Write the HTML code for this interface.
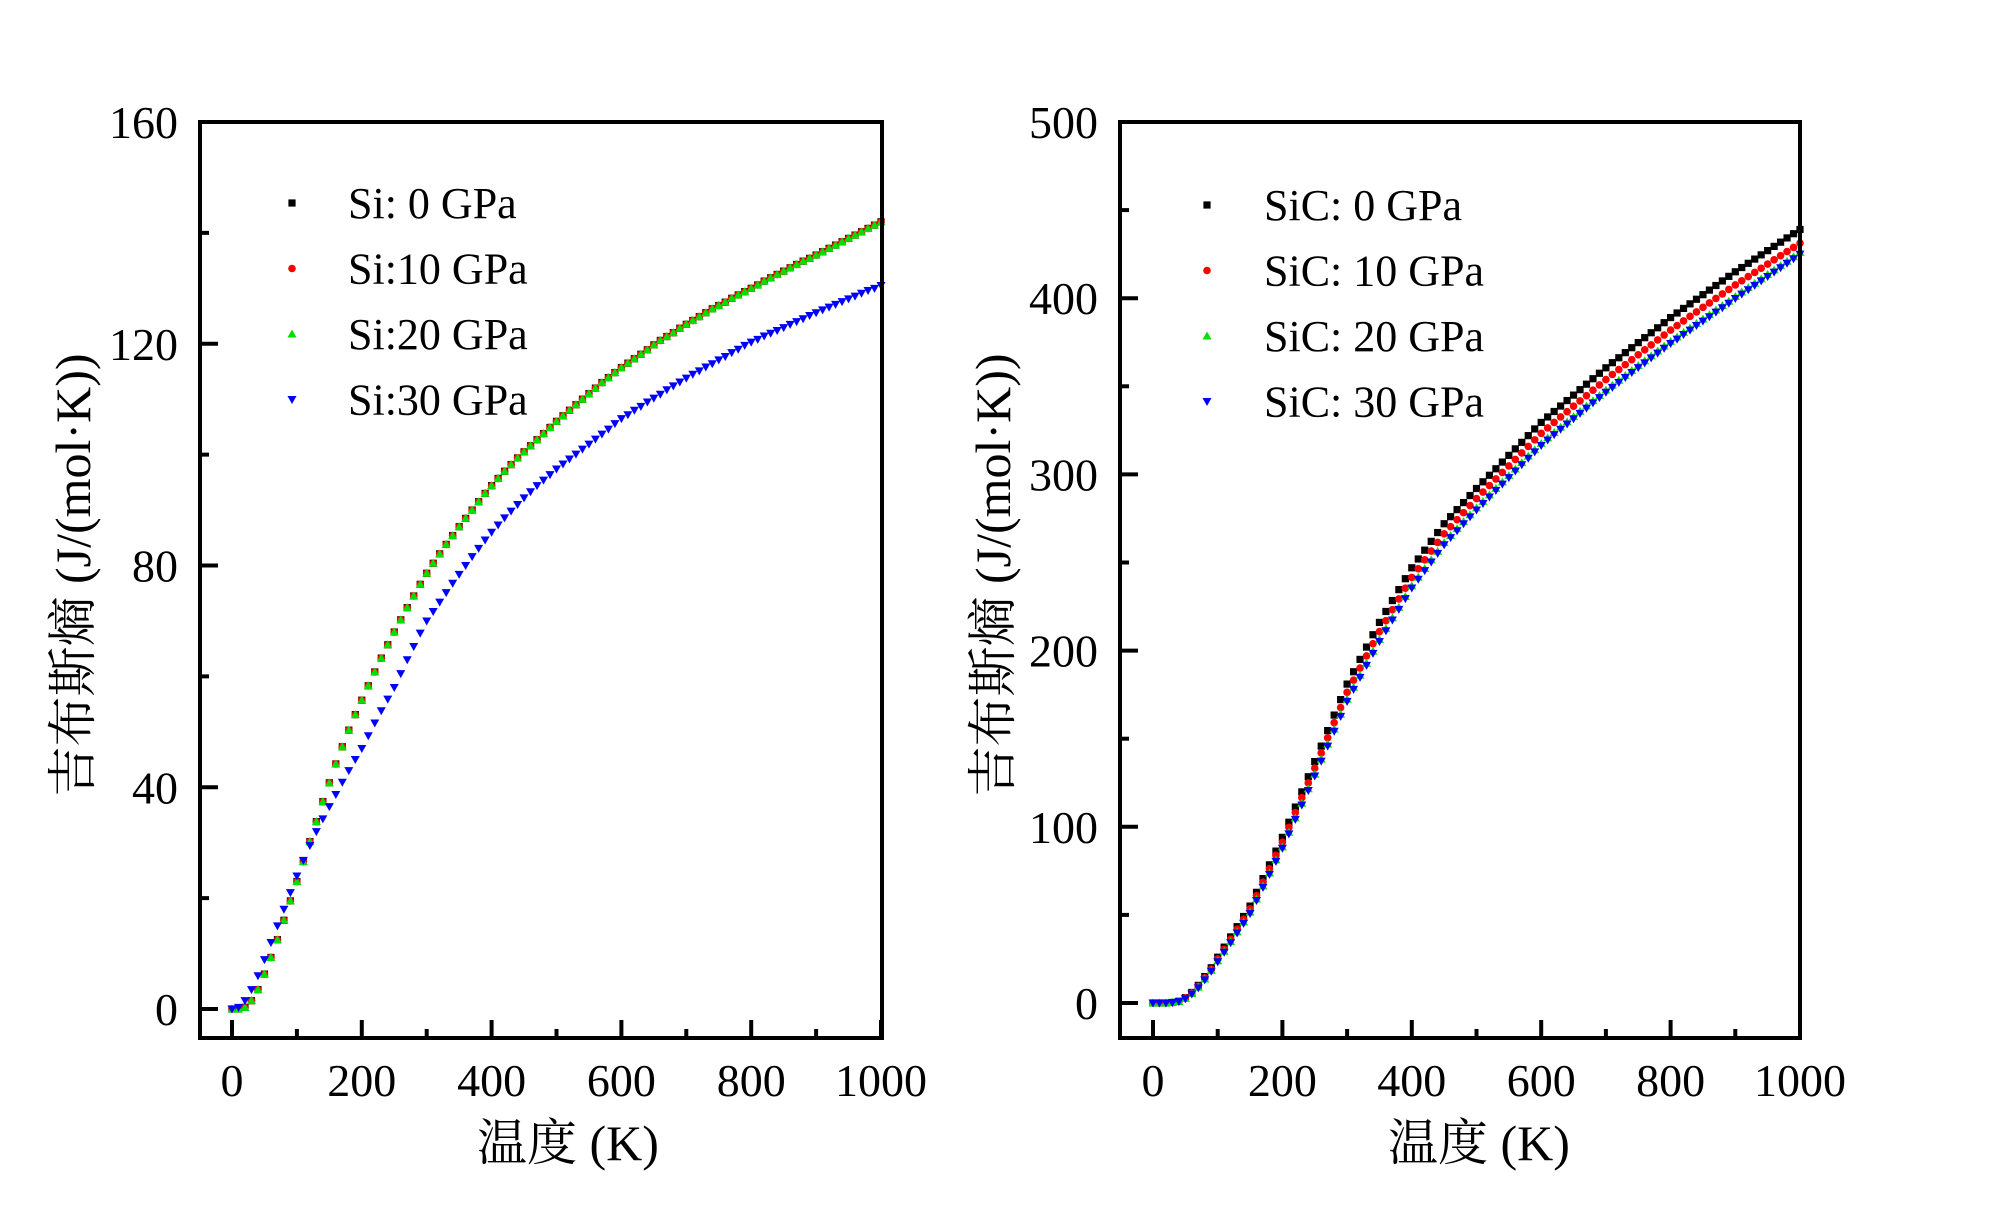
<!DOCTYPE html>
<html><head><meta charset="utf-8"><style>
html,body{margin:0;padding:0;background:#fff;}
svg{display:block;}
text{font-family:"Liberation Serif","Noto Serif CJK SC",serif;fill:#000;}
</style></head><body>
<svg id="chart" width="2000" height="1222" viewBox="0 0 2000 1222"></svg>
<script>
const temps = [];
for (let t = 0; t <= 1000; t += 10) temps.push(t);
const si0 = [0,0,0.3,1.5,3.5,6.3,9.3,12.5,16,19.5,23,26.6,30.2,33.8,37.4,40.8,44.2,47.3,50.3,53.1,55.7,58.3,60.8,63.3,65.7,68,70.2,72.4,74.5,76.6,78.6,80.4,82.1,83.8,85.4,87,88.5,90,91.5,93,94.4,95.7,97,98.2,99.4,100.5,101.6,102.7,103.8,104.9,106,107,108,109,110,111,112,113,113.9,114.8,115.7,116.5,117.3,118.1,118.9,119.8,120.6,121.3,122,122.8,123.5,124.2,124.9,125.6,126.3,126.9,127.5,128.2,128.8,129.4,130,130.6,131.3,131.9,132.5,133.1,133.7,134.3,134.9,135.4,136,136.6,137.2,137.8,138.4,139,139.6,140.2,140.8,141.4,142];
const si10 = [0,0,0.3,1.5,3.5,6.3,9.3,12.5,16,19.5,23,26.6,30.2,33.8,37.4,40.8,44.2,47.3,50.3,53.1,55.7,58.3,60.8,63.3,65.7,68,70.2,72.4,74.5,76.6,78.6,80.4,82.1,83.8,85.4,87,88.5,90,91.5,93,94.4,95.7,97,98.2,99.4,100.5,101.6,102.7,103.8,104.9,106,107,108,109,110,111,112,113,113.9,114.8,115.7,116.5,117.3,118.1,118.9,119.8,120.6,121.3,122,122.8,123.5,124.2,124.9,125.6,126.3,126.9,127.5,128.2,128.8,129.4,130,130.6,131.3,131.9,132.5,133.1,133.7,134.3,134.9,135.4,136,136.6,137.2,137.8,138.4,139,139.6,140.2,140.8,141.4,142];
const si20 = [0,0,0.3,1.5,3.5,6.3,9.3,12.5,16,19.5,23,26.6,30.2,33.8,37.4,40.8,44.2,47.3,50.3,53.1,55.7,58.3,60.8,63.3,65.7,68,70.2,72.4,74.5,76.6,78.6,80.4,82.1,83.8,85.4,87,88.5,90,91.5,93,94.4,95.7,97,98.2,99.4,100.5,101.6,102.7,103.8,104.9,106,107,108,109,110,111,112,113,113.9,114.8,115.7,116.5,117.3,118.1,118.9,119.8,120.6,121.3,122,122.8,123.5,124.2,124.9,125.6,126.3,126.9,127.5,128.2,128.8,129.4,130,130.6,131.3,131.9,132.5,133.1,133.7,134.3,134.9,135.4,136,136.6,137.2,137.8,138.4,139,139.6,140.2,140.8,141.4,142];
const si30 = [0,0.3,1.5,3.5,6,8.9,12,15,18,21,24,26.8,29.5,32,34.3,36.5,38.7,40.9,43,45,47,49.3,51.6,53.8,55.9,58,60.5,63,65.4,67.8,70,71.7,73.4,75.1,76.8,78.4,80,81.6,83.1,84.6,86,87.3,88.6,89.8,91,92.2,93.3,94.4,95.4,96.4,97.4,98.3,99.2,100.1,101,101.9,102.8,103.7,104.6,105.6,106.5,107.2,108,108.7,109.5,110.2,110.9,111.7,112.4,113.1,113.8,114.5,115.1,115.8,116.4,117.1,117.7,118.4,119,119.7,120.3,120.8,121.4,121.9,122.4,122.9,123.5,124,124.5,125.1,125.6,126.1,126.6,127.1,127.6,128.1,128.6,129.1,129.6,130,130.5];
const sic0 = [0,0,0,0.3,1,3,6,10,15,20,26,31.7,37.5,43.3,49.1,55,62.8,70.6,78.4,86.2,94,102.6,111.2,119.8,128.4,137,145.8,154.6,163.4,172.2,181,188,195,202,209,216,222.2,228.4,234.6,240.8,247,252,257,262,267,272,276,280,284,288,292,295.8,299.5,303.2,307,310.8,314.5,318.2,322,325.8,329.5,332.6,335.7,338.8,341.9,345,348.1,351.2,354.3,357.4,360.5,363.4,366.2,369.1,371.9,374.8,377.6,380.4,383.2,386.1,389,391.6,394.2,396.8,399.4,402,404.6,407.2,409.8,412.4,415,417.4,419.8,422.2,424.6,427,429.4,431.8,434.2,436.6,439];
const sic10 = [0,0,0,0.3,1,2.8,5.7,9.5,14.3,19.2,25,30.5,36.2,41.9,47.6,53.4,61,68.6,76.2,83.8,91.3,99.7,108.1,116.5,124.9,133.3,141.9,150.5,159.1,167.7,176.3,183.2,190.1,197,203.9,210.8,217,223.2,229.3,235.4,241.5,246.5,251.5,256.5,261.4,266.3,270.3,274.3,278.3,282.3,286.3,290,293.7,297.4,301.1,304.8,308.5,312.2,315.9,319.6,323.3,326.4,329.5,332.6,335.6,338.7,341.7,344.7,347.8,350.8,353.8,356.7,359.5,362.3,365.1,367.9,370.7,373.5,376.3,379.1,381.9,384.5,387.1,389.7,392.2,394.8,397.3,399.9,402.4,405,407.5,409.9,412.3,414.6,417,419.4,421.8,424.1,426.5,428.8,431.2];
const sic20 = [0,0,0,0.3,0.9,2.6,5.4,9,13.6,18.5,24,29.4,34.9,40.4,46,51.6,59,66.4,73.8,81.2,88.6,96.9,105.1,113.4,121.6,129.9,138.4,146.9,155.4,163.9,172.4,179.2,186,192.8,199.6,206.4,212.5,218.6,224.6,230.7,236.7,241.7,246.6,251.5,256.4,261.3,265.3,269.2,273.2,277.1,281,284.7,288.4,292.1,295.7,299.4,303.1,306.7,310.4,314,317.6,320.7,323.8,326.8,329.8,332.8,335.8,338.8,341.8,344.8,347.8,350.6,353.4,356.2,359,361.8,364.5,367.3,370,372.8,375.5,378,380.6,383.1,385.7,388.2,390.7,393.3,395.8,398.3,401,403.5,406,408.5,411,413.5,416,418.5,421,423.5,426];
const sic30 = [0,0,0,0.2,0.8,2.4,5.1,8.6,13.1,18,23.4,28.8,34.2,39.7,45.2,50.8,58.2,65.6,73,80.4,87.8,96,104.2,112.4,120.6,128.8,137.3,145.8,154.2,162.7,171.2,178,184.8,191.6,198.4,205.2,211.3,217.4,223.4,229.5,235.5,240.5,245.4,250.3,255.2,260.1,264.1,268,272,275.9,279.8,283.5,287.2,290.9,294.5,298.2,301.9,305.5,309.2,312.8,316.4,319.5,322.6,325.6,328.6,331.6,334.6,337.6,340.6,343.6,346.6,349.4,352.2,355,357.8,360.6,363.3,366.1,368.8,371.6,374.3,376.8,379.4,381.9,384.5,387,389.5,392.1,394.6,397.1,399.8,402.3,404.8,407.3,409.8,412.3,414.8,417.3,419.8,422.4,425];
const xTicks = [0,200,400,600,800,1000];
const xMinor = [100,300,500,700,900];
const siYTicks = [0,40,80,120,160];
const siYMinor = [20,60,100,140];
const sicYTicks = [0,100,200,300,400,500];
const sicYMinor = [50,150,250,350,450];
const siLabels = ["Si: 0 GPa","Si:10 GPa","Si:20 GPa","Si:30 GPa"];
const sicLabels = ["SiC: 0 GPa","SiC: 10 GPa","SiC: 20 GPa","SiC: 30 GPa"];

const NS = "http://www.w3.org/2000/svg";
const svg = document.getElementById('chart');
const colors = ["#000000","#ff0000","#00e000","#0000ff"];
const shapes = ["square","circle","tri","itri"];

function mk(tag, attrs, parent){
  const e = document.createElementNS(NS, tag);
  for (const k in attrs) e.setAttribute(k, attrs[k]);
  parent.appendChild(e);
  return e;
}
function marker(shape, cx, cy, color, parent){
  let e;
  if (shape === "square") e = mk('rect', {x:cx-3.6, y:cy-3.6, width:7.2, height:7.2, fill:color}, parent);
  else if (shape === "circle") e = mk('circle', {cx:cx, cy:cy, r:3.8, fill:color}, parent);
  else if (shape === "tri") e = mk('polygon', {points:`${cx},${cy-4.5} ${cx+4.5},${cy+3.5} ${cx-4.5},${cy+3.5}`, fill:color}, parent);
  else e = mk('polygon', {points:`${cx},${cy+4.5} ${cx+4.5},${cy-3.5} ${cx-4.5},${cy-3.5}`, fill:color}, parent);
  return e;
}

function panel(cfg){
  const g = mk('g', {}, svg);
  
  
  const xs = v => cfg.x0 + (v - 0) / 1000 * (cfg.x1 - cfg.x0);
  const ys = v => cfg.y0 - v / cfg.ymax * (cfg.y0 - cfg.yTop);
  // series
  cfg.series.forEach((arr, si) => {
    const sg = mk('g', {}, g);
    
    
    arr.forEach((v, i) => {
      const m = marker(shapes[si], xs(temps[i]), ys(v), colors[si], sg);
      
      
    });
  });
  // frame
  const fr = mk('rect', {x:cfg.fl, y:cfg.ft, width:cfg.fr - cfg.fl, height:cfg.fb - cfg.ft, fill:'none', stroke:'#000', 'stroke-width':4}, g);
  
  
  // x ticks
  xTicks.forEach(t => {
    const l = mk('line', {x1:xs(t), x2:xs(t), y1:cfg.fb, y2:cfg.fb - 18, stroke:'#000', 'stroke-width':4}, g);
    
    
    const tx = mk('text', {x:xs(t), y:1096, 'text-anchor':'middle', 'font-size':46}, g);
    tx.textContent = t;
    
    
  });
  xMinor.forEach(t => {
    const l = mk('line', {x1:xs(t), x2:xs(t), y1:cfg.fb, y2:cfg.fb - 9, stroke:'#000', 'stroke-width':4}, g);
    
    
  });
  cfg.yTicks.forEach(t => {
    const l = mk('line', {x1:cfg.fl, x2:cfg.fl + 18, y1:ys(t), y2:ys(t), stroke:'#000', 'stroke-width':4}, g);
    
    
    const tx = mk('text', {x:cfg.fl - 22, y:ys(t) + 16, 'text-anchor':'end', 'font-size':46}, g);
    tx.textContent = t;
    
    
  });
  cfg.yMinor.forEach(t => {
    const l = mk('line', {x1:cfg.fl, x2:cfg.fl + 9, y1:ys(t), y2:ys(t), stroke:'#000', 'stroke-width':4}, g);
    
    
  });
  // titles
  const xt = mk('text', {x:cfg.xtx, y:1160, 'text-anchor':'middle', 'font-size':50}, g);
  xt.textContent = '温度 (K)';
  
  
  const yt = mk('text', {x:0, y:0, 'text-anchor':'middle', 'font-size':50, transform:`translate(${cfg.ytx},575) rotate(-90)`}, g);
  yt.textContent = '吉布斯熵 (J/(mol·K))';
  
  
  // legend
  const lg = mk('g', {}, g);
  
  
  cfg.labels.forEach((lab, i) => {
    const ly = cfg.legY + i * 65.5;
    const m = marker(shapes[i], cfg.legMx, ly, colors[i], lg);
    
    
    const tx = mk('text', {x:cfg.legTx, y:ly + 15, 'font-size':44}, lg);
    tx.textContent = lab;
    
    
  });
}

panel({name:'si-panel', x0:232, x1:881, y0:1009, yTop:122, ymax:160, fl:200, fr:882, ft:122, fb:1038,
  series:[si0,si10,si20,si30], yTicks:siYTicks, yMinor:siYMinor, labels:siLabels,
  xtx:568, ytx:90, legY:203, legMx:292, legTx:348});
panel({name:'sic-panel', x0:1153, x1:1800, y0:1003, yTop:122, ymax:500, fl:1120, fr:1800, ft:122, fb:1038,
  series:[sic0,sic10,sic20,sic30], yTicks:sicYTicks, yMinor:sicYMinor, labels:sicLabels,
  xtx:1479, ytx:1010, legY:205, legMx:1207, legTx:1264});
</script>
</body></html>
